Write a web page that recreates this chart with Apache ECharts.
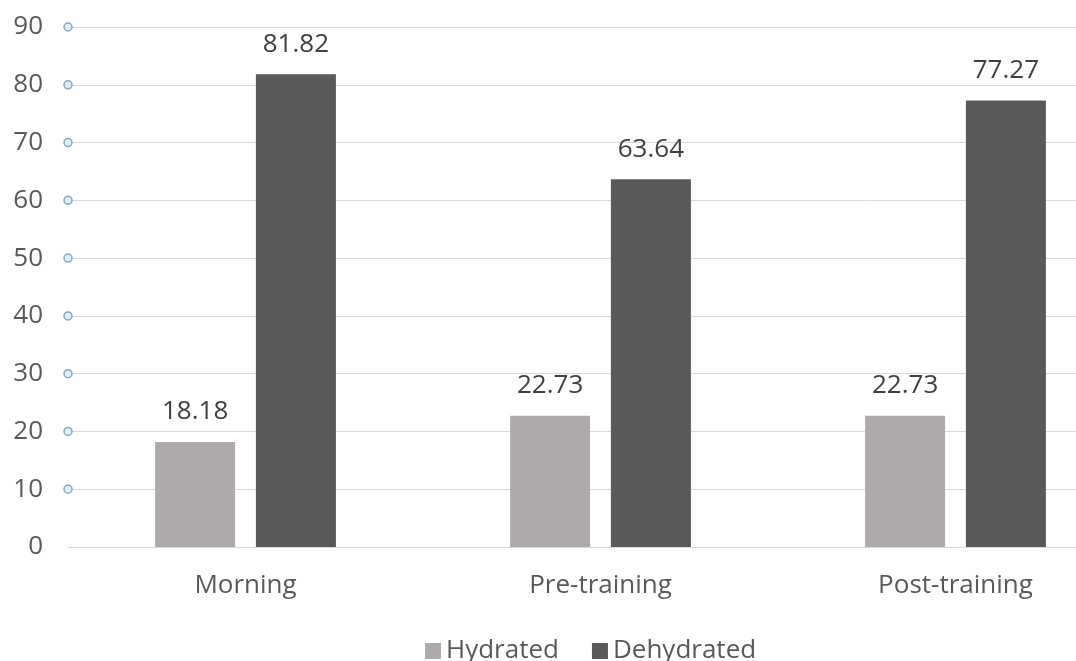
<!DOCTYPE html>
<html>
<head>
<meta charset="utf-8">
<script src="https://cdn.jsdelivr.net/npm/echarts@6/dist/echarts.min.js"></script>
<style>
  html, body { margin: 0; padding: 0; background: #ffffff; overflow: hidden; }
  /* the canvas is wider than the window: the plot area continues past the right edge */
  #chart { width: 1133px; height: 661px; }
</style>
</head>
<body>
<div id="chart"></div>
<script>
// Hydration status by time of day (%)
const categories = ['Morning', 'Pre-training', 'Post-training'];
const hydrated = [18.18, 22.73, 22.73];
const dehydrated = [81.82, 63.64, 77.27];
const yTicks = [0, 10, 20, 30, 40, 50, 60, 70, 80, 90];

const font = '"Open Sans", "Noto Sans", sans-serif';

// small circle markers sitting at the left end of each gridline (not the baseline)
const tickMarkers = yTicks.filter(v => v > 0).map(v => [0, v]);

const valueLabel = {
  show: true,
  position: 'top',
  distance: 17,
  fontFamily: font,
  fontSize: 26,
  color: '#404040',
  formatter: p => p.value.toFixed(2)
};

const chart = echarts.init(document.getElementById('chart'));
chart.setOption({
  animation: false,
  backgroundColor: '#ffffff',
  textStyle: { fontFamily: font },
  grid: { left: 68, top: 27, bottom: 114, right: 0, containLabel: false },
  legend: {
    top: 633,
    left: 420,
    itemWidth: 16,
    itemHeight: 16,
    itemGap: 33,
    icon: 'rect',
    textStyle: { fontFamily: font, fontSize: 26, color: '#595959' },
    data: ['Hydrated', 'Dehydrated']
  },
  xAxis: [
    {
      type: 'category',
      data: categories,
      axisLine: { show: true, lineStyle: { color: '#d9d9d9', width: 1 } },
      axisTick: { show: false },
      axisLabel: { fontFamily: font, fontSize: 26, color: '#595959', margin: 26 }
    },
    {
      type: 'value',
      min: 0,
      max: 1,
      show: false
    }
  ],
  yAxis: {
    type: 'value',
    min: 0,
    max: 90,
    interval: 10,
    axisLine: { show: false },
    axisTick: { show: false },
    splitLine: { lineStyle: { color: '#d9d9d9', width: 1 } },
    axisLabel: { fontFamily: font, fontSize: 26, color: '#595959', margin: 25 }
  },
  series: [
    {
      name: 'Hydrated',
      type: 'bar',
      data: hydrated,
      barWidth: 80,
      barGap: '26%',
      itemStyle: { color: '#aeaaaa' },
      label: valueLabel
    },
    {
      name: 'Dehydrated',
      type: 'bar',
      data: dehydrated,
      barWidth: 80,
      barGap: '26%',
      itemStyle: { color: '#595959' },
      label: valueLabel
    },
    {
      name: 'ticks',
      type: 'scatter',
      xAxisIndex: 1,
      data: tickMarkers,
      symbol: 'circle',
      symbolSize: 8,
      silent: true,
      itemStyle: { color: '#d3edf6', borderColor: '#6f94b4', borderWidth: 1.5 },
      z: 5
    }
  ]
});
</script>
</body>
</html>
